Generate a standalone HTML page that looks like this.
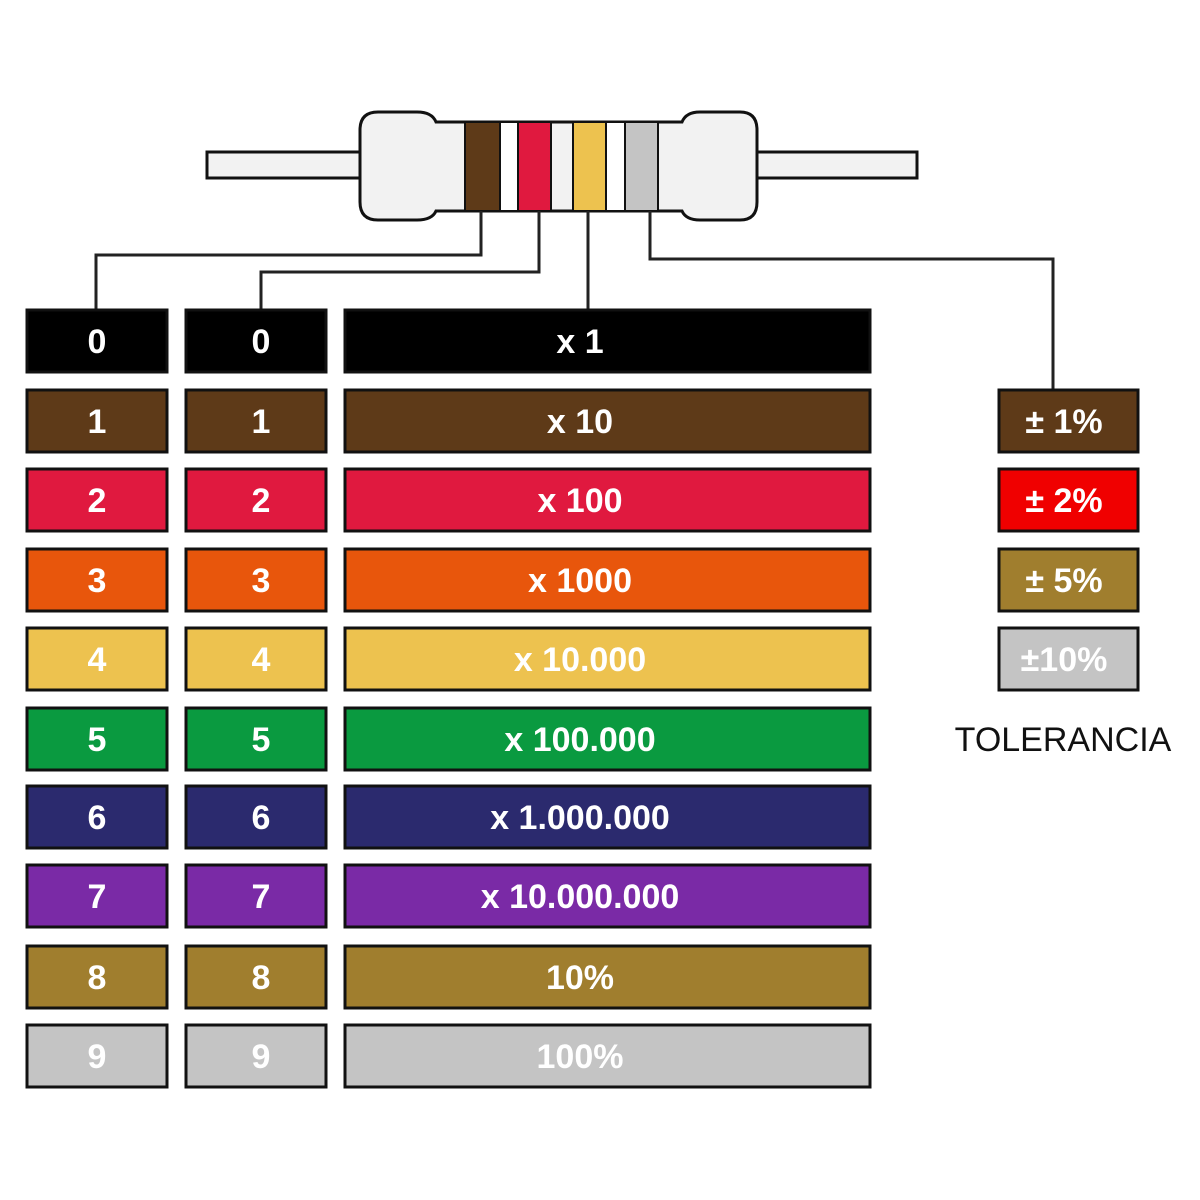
<!DOCTYPE html>
<html><head><meta charset="utf-8"><style>
html,body{margin:0;padding:0;background:#fff}
svg{display:block}
text{font-family:"Liberation Sans",sans-serif;font-weight:bold;font-size:34px;fill:#fff;text-anchor:middle}
</style></head><body>
<svg width="1200" height="1200" viewBox="0 0 1200 1200" xmlns="http://www.w3.org/2000/svg">
<!-- leads -->
<rect x="207" y="152" width="710" height="26" fill="#f2f2f2" stroke="#111" stroke-width="3"/>
<!-- body -->
<path d="M378 112 H417 Q432 112 436 122 H682 Q686 112 700 112 H740 Q757 112 757 130 V202 Q757 220 740 220 H700 Q686 220 682 211 H436 Q432 220 417 220 H378 Q360 220 360 202 V130 Q360 112 378 112 Z" fill="#f2f2f2" stroke="#111" stroke-width="3"/>
<rect x="465" y="122" width="35" height="89" fill="#5e3a18" stroke="#111" stroke-width="2"/>
<rect x="500" y="122" width="18" height="89" fill="#fff" stroke="#111" stroke-width="2"/>
<rect x="518" y="122" width="33" height="89" fill="#e0193f" stroke="#111" stroke-width="2"/>
<rect x="573" y="122" width="33" height="89" fill="#edc24f" stroke="#111" stroke-width="2"/>
<rect x="606" y="122" width="19" height="89" fill="#fff" stroke="#111" stroke-width="2"/>
<rect x="625" y="122" width="33" height="89" fill="#c4c4c4" stroke="#111" stroke-width="2"/>
<!-- connectors -->
<g fill="none" stroke="#222" stroke-width="3">
<polyline points="481,211 481,255 96,255 96,310"/>
<polyline points="539,211 539,272 261,272 261,310"/>
<polyline points="588,211 588,310"/>
<polyline points="650,211 650,259 1053,259 1053,390"/>
</g>
<g stroke="#111" stroke-width="3">
<rect x="27" y="310" width="140" height="62" fill="#000"/><rect x="186" y="310" width="140" height="62" fill="#000"/><rect x="345" y="310" width="525" height="62" fill="#000"/>
<rect x="27" y="390" width="140" height="62" fill="#5e3a18"/><rect x="186" y="390" width="140" height="62" fill="#5e3a18"/><rect x="345" y="390" width="525" height="62" fill="#5e3a18"/>
<rect x="27" y="469" width="140" height="62" fill="#e0193f"/><rect x="186" y="469" width="140" height="62" fill="#e0193f"/><rect x="345" y="469" width="525" height="62" fill="#e0193f"/>
<rect x="27" y="549" width="140" height="62" fill="#e8560c"/><rect x="186" y="549" width="140" height="62" fill="#e8560c"/><rect x="345" y="549" width="525" height="62" fill="#e8560c"/>
<rect x="27" y="628" width="140" height="62" fill="#edc24f"/><rect x="186" y="628" width="140" height="62" fill="#edc24f"/><rect x="345" y="628" width="525" height="62" fill="#edc24f"/>
<rect x="27" y="708" width="140" height="62" fill="#0a9a40"/><rect x="186" y="708" width="140" height="62" fill="#0a9a40"/><rect x="345" y="708" width="525" height="62" fill="#0a9a40"/>
<rect x="27" y="786" width="140" height="62" fill="#2b2a6e"/><rect x="186" y="786" width="140" height="62" fill="#2b2a6e"/><rect x="345" y="786" width="525" height="62" fill="#2b2a6e"/>
<rect x="27" y="865" width="140" height="62" fill="#7a2aa6"/><rect x="186" y="865" width="140" height="62" fill="#7a2aa6"/><rect x="345" y="865" width="525" height="62" fill="#7a2aa6"/>
<rect x="27" y="946" width="140" height="62" fill="#a07e2e"/><rect x="186" y="946" width="140" height="62" fill="#a07e2e"/><rect x="345" y="946" width="525" height="62" fill="#a07e2e"/>
<rect x="27" y="1025" width="140" height="62" fill="#c4c4c4"/><rect x="186" y="1025" width="140" height="62" fill="#c4c4c4"/><rect x="345" y="1025" width="525" height="62" fill="#c4c4c4"/>
<rect x="999" y="390" width="139" height="62" fill="#5e3a18"/>
<rect x="999" y="469" width="139" height="62" fill="#f00000"/>
<rect x="999" y="549" width="139" height="62" fill="#a07e2e"/>
<rect x="999" y="628" width="139" height="62" fill="#c4c4c4"/>
</g>
<g>
<text x="97" y="353">0</text><text x="261" y="353">0</text><text x="580" y="353">x 1</text>
<text x="97" y="433">1</text><text x="261" y="433">1</text><text x="580" y="433">x 10</text>
<text x="97" y="512">2</text><text x="261" y="512">2</text><text x="580" y="512">x 100</text>
<text x="97" y="592">3</text><text x="261" y="592">3</text><text x="580" y="592">x 1000</text>
<text x="97" y="671">4</text><text x="261" y="671">4</text><text x="580" y="671">x 10.000</text>
<text x="97" y="751">5</text><text x="261" y="751">5</text><text x="580" y="751">x 100.000</text>
<text x="97" y="829">6</text><text x="261" y="829">6</text><text x="580" y="829">x 1.000.000</text>
<text x="97" y="908">7</text><text x="261" y="908">7</text><text x="580" y="908">x 10.000.000</text>
<text x="97" y="989">8</text><text x="261" y="989">8</text><text x="580" y="989">10%</text>
<text x="97" y="1068">9</text><text x="261" y="1068">9</text><text x="580" y="1068">100%</text>
<text x="1064" y="433">± 1%</text>
<text x="1064" y="512">± 2%</text>
<text x="1064" y="592">± 5%</text>
<text x="1064" y="671">±10%</text>
</g>
<text x="1063" y="751" style="font-weight:normal;fill:#111;font-size:34px">TOLERANCIA</text>
</svg>
</body></html>
